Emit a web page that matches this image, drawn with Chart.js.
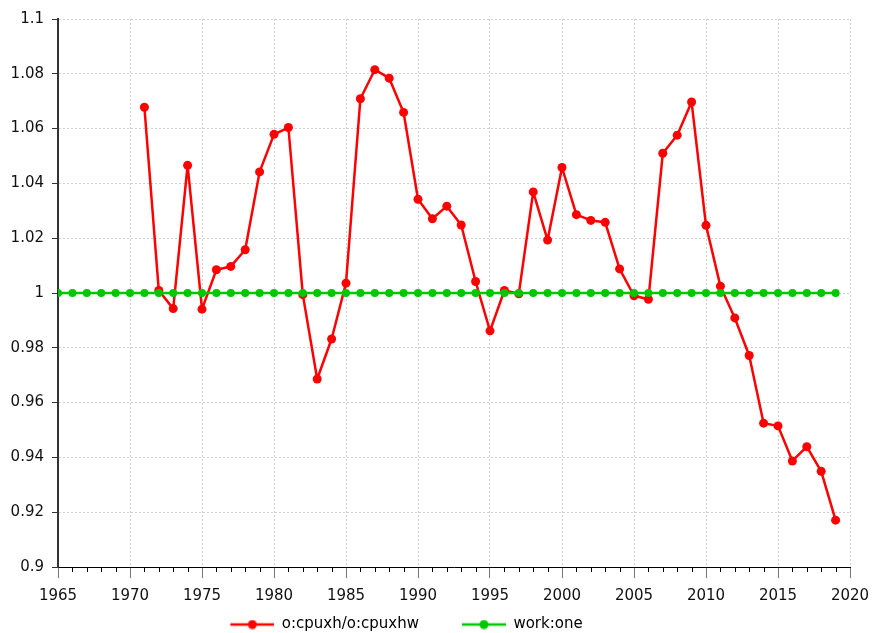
<!DOCTYPE html>
<html>
<head>
<meta charset="utf-8">
<script src="https://cdn.jsdelivr.net/npm/chart.js@4.4.1/dist/chart.umd.min.js"></script>
<style>
  html, body { margin: 0; padding: 0; background: #fff; }
  #wrap { width: 873px; height: 633px; }
</style>
</head>
<body>
<div id="wrap"><canvas id="chart"></canvas></div>
<script>
/* ---- data ---- */
const redLabel = 'o:cpuxh/o:cpuxhw';
const greenLabel = 'work:one';

const redYears = [1971, 1972, 1973, 1974, 1975, 1976, 1977, 1978, 1979, 1980,
  1981, 1982, 1983, 1984, 1985, 1986, 1987, 1988, 1989, 1990,
  1991, 1992, 1993, 1994, 1995, 1996, 1997, 1998, 1999, 2000,
  2001, 2002, 2003, 2004, 2005, 2006, 2007, 2008, 2009, 2010,
  2011, 2012, 2013, 2014, 2015, 2016, 2017, 2018, 2019];
const redValues = [1.0678, 1.0009, 0.9943, 1.0466, 0.9941, 1.0085, 1.0097, 1.0158, 1.0442, 1.0579,
  1.0604, 0.9994, 0.9686, 0.9832, 1.0036, 1.0709, 1.0815, 1.0784, 1.0659, 1.0342,
  1.0271, 1.0317, 1.0248, 1.0042, 0.9862, 1.0009, 0.9997, 1.0369, 1.0193, 1.0458,
  1.0286, 1.0265, 1.0258, 1.0088, 0.9990, 0.9977, 1.0510, 1.0576, 1.0697, 1.0247,
  1.0025, 0.9909, 0.9772, 0.9525, 0.9515, 0.9387, 0.9439, 0.9349, 0.9171];

const greenYears = [1965, 1966, 1967, 1968, 1969, 1970, 1971, 1972, 1973, 1974,
  1975, 1976, 1977, 1978, 1979, 1980, 1981, 1982, 1983, 1984,
  1985, 1986, 1987, 1988, 1989, 1990, 1991, 1992, 1993, 1994,
  1995, 1996, 1997, 1998, 1999, 2000, 2001, 2002, 2003, 2004,
  2005, 2006, 2007, 2008, 2009, 2010, 2011, 2012, 2013, 2014,
  2015, 2016, 2017, 2018, 2019];
const greenValues = greenYears.map(() => 1);   // constant series "one"

const xMin = 1965, xMax = 2020, xStep = 5;
const yMin = 0.9, yMax = 1.1, yStep = 0.02;

/* ---- look ---- */
const FONT = 'DejaVu Sans, Verdana, sans-serif';
const RED = '#ff0000';
const GREEN = '#00c800';
const ICON_W = 75;        // legend box width (line sits on its right 44px)
const PAD_L = -87;        // pulls the centred legend left, y axis width makes up for it
const PLOT_LEFT = 58;
const X_AXIS_H = 38;
const PLOT_RIGHT_GAP = 23;

function legendIcon(color) {
  const c = document.createElement('canvas');
  c.width = ICON_W; c.height = 10;
  const g = c.getContext('2d');
  const x0 = ICON_W - 44;
  g.strokeStyle = color; g.lineWidth = 2.5;
  g.beginPath(); g.moveTo(x0, 5); g.lineTo(ICON_W, 5); g.stroke();
  g.fillStyle = color;
  g.beginPath(); g.arc(x0 + 22, 5, 4.5, 0, Math.PI * 2); g.fill();
  return c;
}

// short year ticks between the labelled ones
const minorTicks = {
  id: 'minorTicks',
  afterDraw(chart) {
    const xs = chart.scales.x;
    const ctx = chart.ctx;
    ctx.save();
    ctx.strokeStyle = '#000';
    ctx.lineWidth = 1;
    ctx.beginPath();
    for (let v = xMin; v <= xMax; v++) {
      if (v % xStep === 0) continue;
      const px = Math.round(xs.getPixelForValue(v)) + 0.5;
      ctx.moveTo(px, xs.top);
      ctx.lineTo(px, xs.top + 5);
    }
    ctx.stroke();
    ctx.restore();
  }
};

/* ---- chart ---- */
Chart.defaults.font.family = FONT;
Chart.defaults.font.size = 15;
Chart.defaults.color = '#111';

new Chart(document.getElementById('chart'), {
  type: 'line',
  data: {
    datasets: [
      {
        label: redLabel,
        data: redYears.map((y, i) => ({ x: y, y: redValues[i] })),
        borderColor: RED, backgroundColor: RED,
        borderWidth: 2.5, borderJoinStyle: 'round',
        pointRadius: 4.5, pointBorderWidth: 0,
        order: 1, tension: 0,
        legendIcon: legendIcon(RED)
      },
      {
        label: greenLabel,
        data: greenYears.map((y, i) => ({ x: y, y: greenValues[i] })),
        borderColor: GREEN, backgroundColor: GREEN,
        borderWidth: 2.5, borderJoinStyle: 'round',
        pointRadius: 4, pointBorderWidth: 0,
        order: 0, tension: 0,
        legendIcon: legendIcon(GREEN)
      }
    ]
  },
  options: {
    responsive: true,
    maintainAspectRatio: false,
    animation: false,
    layout: { padding: { top: 19, right: 4, left: PAD_L, bottom: -9 } },
    plugins: {
      tooltip: { enabled: false },
      legend: {
        position: 'bottom',
        labels: {
          usePointStyle: true,
          pointStyleWidth: ICON_W,
          padding: 12,
          color: '#111',
          font: { size: 15 },
          generateLabels(chart) {
            return chart.data.datasets.map((ds, i) => ({
              text: ds.label,
              pointStyle: ds.legendIcon,
              fillStyle: ds.borderColor,
              strokeStyle: ds.borderColor,
              lineWidth: 0,
              datasetIndex: i,
              hidden: false
            }));
          }
        }
      }
    },
    scales: {
      x: {
        type: 'linear',
        min: xMin, max: xMax,
        afterFit: s => { s.height = X_AXIS_H; s.paddingRight = PLOT_RIGHT_GAP; },
        ticks: { stepSize: xStep, maxRotation: 0, padding: 9, color: '#111', callback: v => String(v) },
        grid: { color: '#cfcfcf', tickColor: '#777', tickLength: 11, tickWidth: 1 },
        border: { color: '#000', width: 1, dash: [2, 2] }
      },
      y: {
        min: yMin, max: yMax,
        afterFit: s => { s.width = PLOT_LEFT - PAD_L; },
        ticks: {
          stepSize: yStep, padding: 8, color: '#111',
          callback: v => String(Number(v.toFixed(2)))
        },
        grid: { color: '#cfcfcf', tickColor: '#333', tickLength: 6, tickWidth: 1 },
        border: { color: '#333', width: 2, dash: [2, 2] }
      }
    }
  },
  plugins: [minorTicks]
});
</script>
</body>
</html>
